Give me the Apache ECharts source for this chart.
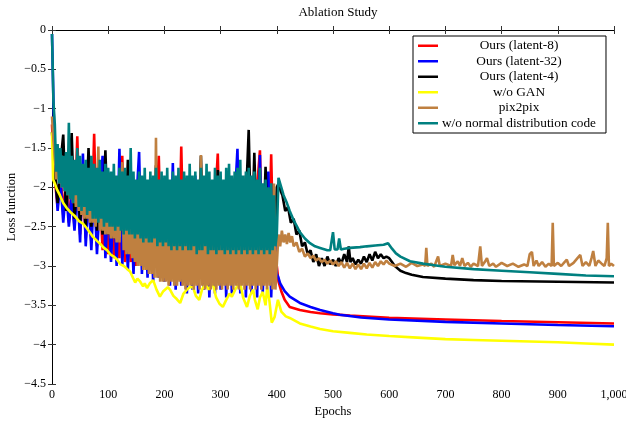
<!DOCTYPE html>
<html>
<head>
<meta charset="utf-8">
<script src="https://cdn.jsdelivr.net/npm/echarts/dist/echarts.min.js"></script>
<style>html,body{margin:0;padding:0;background:#fff}#c{width:626px;height:421px}</style>
</head>
<body>
<div id="c"></div>
<script>
// ---------- DATA ----------
const seriesNames = ['Ours (latent-8)','Ours (latent-32)','Ours (latent-4)','w/o GAN','pix2pix','w/o normal distribution code'];
const xTicks = [0,100,200,300,400,500,600,700,800,900,1000];
const yTicks = [0,-0.5,-1,-1.5,-2,-2.5,-3,-3.5,-4,-4.5];

// epochs of the noisy first phase (every 5 epochs, and every 2.5 epochs for the dense bands)
const epochsNoisy = [0,5,10,15,20,25,30,35,40,45,50,55,60,65,70,75,80,85,90,95,
  100,105,110,115,120,125,130,135,140,145,150,155,160,165,170,175,180,185,190,195,
  200,205,210,215,220,225,230,235,240,245,250,255,260,265,270,275,280,285,290,295,
  300,305,310,315,320,325,330,335,340,345,350,355,360,365,370,375,380,385,390,395,400];
const epochsDense = Array.from({length:161}, (_, i) => i * 2.5);

const latent8Noisy = [-1.2,-1.9,-2.25,-1.8,-2.35,-1.9,-2.45,-2.0,-2.5,-1.35,
  -2.6,-2.0,-2.65,-2.1,-2.7,-1.32,-2.75,-2.05,-2.8,-2.15,
  -2.85,-1.9,-2.9,-2.1,-2.9,-1.6,-2.95,-2.2,-2.95,-1.95,
  -3.0,-2.2,-3.0,-2.1,-3.05,-2.0,-3.0,-2.25,-1.6,-3.05,
  -2.2,-3.1,-2.0,-3.05,-2.3,-3.1,-1.48,-3.05,-2.2,-3.1,
  -2.1,-3.1,-1.95,-3.1,-2.3,-3.15,-2.05,-3.1,-2.2,-1.57,
  -3.15,-2.1,-3.1,-2.3,-3.15,-2.0,-3.1,-2.2,-3.15,-1.85,
  -3.1,-2.2,-3.15,-2.0,-1.53,-3.15,-2.2,-3.1,-1.58,-3.2,-3.0];
const latent8TailEpochs = [403,408,414,423,441,460,477,500,530,600,700,800,900,1000];
const latent8Tail = [-3.2,-3.32,-3.43,-3.52,-3.56,-3.585,-3.6,-3.615,-3.63,-3.66,-3.68,-3.7,-3.715,-3.73];

const latent32Noisy = [-0.05,-1.7,-2.3,-1.9,-2.45,-2.0,-2.5,-2.1,-2.55,-2.0,
  -2.7,-1.57,-2.75,-2.1,-2.8,-2.0,-2.85,-2.2,-1.6,-2.9,
  -2.15,-2.95,-2.1,-3.0,-1.51,-3.0,-2.2,-3.05,-2.1,-3.1,
  -2.2,-1.55,-3.1,-2.0,-3.15,-2.2,-3.2,-2.1,-3.15,-2.3,
  -3.2,-2.0,-3.25,-1.69,-3.3,-2.2,-3.25,-2.1,-3.35,-2.3,
  -3.3,-1.85,-3.35,-2.2,-3.3,-2.1,-3.4,-2.2,-3.35,-2.0,
  -3.3,-2.25,-3.4,-1.95,-3.35,-2.2,-1.51,-3.35,-2.1,-3.4,
  -2.2,-3.35,-2.0,-3.4,-1.59,-3.35,-2.2,-1.8,-3.4,-2.3,-3.1];
const latent32TailEpochs = [403,406,414,423,441,460,477,500,512,550,600,700,800,900,1000];
const latent32Tail = [-3.15,-3.22,-3.32,-3.39,-3.47,-3.52,-3.56,-3.6,-3.62,-3.655,-3.68,-3.71,-3.73,-3.75,-3.765];

const latent4Noisy = [-1.3,-1.8,-2.2,-1.7,-1.33,-2.3,-1.9,-1.31,-2.4,-1.9,
  -2.45,-2.0,-2.5,-1.5,-2.5,-2.0,-2.55,-2.1,-2.6,-1.53,
  -2.6,-2.1,-2.65,-2.0,-2.65,-2.2,-2.7,-1.65,-2.7,-2.1,
  -2.7,-2.2,-2.75,-2.0,-2.7,-2.3,-2.75,-1.72,-2.75,-2.2,
  -2.8,-2.1,-2.75,-2.3,-2.8,-2.0,-2.8,-2.2,-2.8,-2.1,
  -2.85,-2.3,-2.8,-1.6,-2.85,-2.2,-2.8,-2.1,-2.85,-1.78,
  -2.85,-2.2,-2.8,-2.1,-2.85,-2.3,-2.8,-2.0,-2.85,-2.2,
  -1.27,-2.85,-1.56,-2.8,-2.1,-2.85,-1.74,-2.8,-2.2,-2.85,-2.0];
const latent4TailEpochs = [403,407,410,415,420,425,430,435,440,445,450,455,460,465,470,475,480,485,490,495,
  500,505,510,515,520,525,528,531,535,540,545,550,555,560,565,570,575,580,585,590,
  595,600,605,610,620,630,640,660,700,750,800,900,1000];
const latent4Tail = [-1.95,-2.05,-2.1,-2.3,-2.25,-2.45,-2.4,-2.6,-2.55,-2.75,-2.7,-2.85,-2.8,-2.95,-2.85,-3.0,-2.9,-3.0,-2.88,-2.98,
  -2.92,-3.0,-2.9,-2.97,-2.85,-2.95,-2.75,-2.95,-2.9,-2.98,-2.92,-2.97,-2.88,-2.95,-2.85,-2.93,-2.82,-2.9,-2.85,-2.9,
  -2.88,-2.9,-2.95,-3.0,-3.06,-3.09,-3.11,-3.14,-3.16,-3.18,-3.19,-3.2,-3.21];

const noGanEpochs = [0,2,5,9,14,20,26,32,40,48,55,62,68,73,80,86,91,98,105,110,
  116,122,128,134,139,144,148,152,157,162,165,169,174,180,186,192,198,206,210,216,
  222,228,234,240,245,251,256,262,267,273,279,286,292,298,304,310,316,320,326,330,
  335,340,347,352,358,361,366,370,375,380,383,387,391,396,402,408,416,423,441,460,
  477,500,530,560,600,650,700,750,800,850,900,950,1000];
const noGanValues = [-1.3,-1.9,-1.95,-2.03,-2.1,-2.2,-2.26,-2.31,-2.36,-2.43,-2.46,-2.52,-2.58,-2.63,-2.68,-2.72,-2.76,-2.8,-2.86,-2.88,
  -2.92,-2.98,-3.0,-3.04,-3.07,-3.15,-3.21,-3.16,-3.2,-3.26,-3.22,-3.28,-3.22,-3.18,-3.3,-3.39,-3.32,-3.27,-3.3,-3.38,
  -3.42,-3.47,-3.35,-3.3,-3.27,-3.27,-3.38,-3.43,-3.3,-3.22,-3.3,-3.22,-3.4,-3.48,-3.52,-3.43,-3.35,-3.39,-3.3,-3.25,
  -3.22,-3.4,-3.52,-3.38,-3.3,-3.43,-3.55,-3.4,-3.33,-3.5,-3.26,-3.45,-3.72,-3.65,-3.43,-3.58,-3.64,-3.66,-3.73,-3.77,
  -3.8,-3.83,-3.85,-3.87,-3.89,-3.91,-3.93,-3.94,-3.95,-3.96,-3.97,-3.985,-4.0];

// pix2pix, every 2.5 epochs from 0 to 400
const pix2pixNoisy = [-1.1,
  -1.4,-1.6,-1.9,-1.55,-1.95,-1.65,-2.0,-1.7,-2.05,-1.75,
  -2.1,-1.8,-2.15,-1.85,-2.2,-1.9,-2.25,-1.9,-2.3,-1.95,
  -2.35,-2.0,-2.4,-2.0,-2.4,-2.05,-2.45,-2.1,-2.45,-2.1,
  -2.5,-2.1,-1.48,-2.55,-2.15,-2.55,-2.2,-2.6,-2.2,-2.6,
  -2.25,-2.65,-2.2,-2.65,-2.3,-2.7,-2.25,-2.7,-2.3,-1.68,
  -2.8,-2.3,-2.85,-2.35,-2.85,-2.3,-2.9,-2.4,-2.95,-2.35,
  -3.0,-2.4,-3.0,-2.35,-3.05,-2.4,-3.05,-2.45,-3.1,-2.4,
  -3.1,-2.45,-3.15,-1.37,-3.15,-2.4,-3.2,-2.45,-3.2,-2.35,
  -3.2,-2.4,-3.25,-2.45,-3.2,-2.35,-3.25,-2.4,-3.25,-2.45,
  -3.2,-2.4,-3.25,-2.35,-3.3,-2.4,-3.25,-2.45,-3.25,-2.4,
  -3.3,-2.45,-3.25,-2.4,-3.3,-1.59,-3.25,-2.35,-3.3,-2.45,
  -3.25,-2.4,-3.3,-2.35,-3.25,-2.45,-3.3,-2.4,-3.25,-2.35,
  -3.3,-2.45,-3.25,-2.4,-3.3,-2.35,-3.25,-2.45,-3.3,-2.4,
  -3.25,-2.35,-3.3,-2.45,-3.25,-2.4,-3.3,-2.4,-3.25,-2.35,
  -3.3,-2.45,-3.25,-2.4,-3.3,-2.35,-3.25,-2.45,-3.3,-2.4,
  -3.25,-2.35,-3.3,-2.3,-3.25,-2.1,-3.3,-1.95,-3.3,-3.3];
const pix2pixTailEpochs = [403,406,409,412,415,418,421,424,427,430,435,440,445,450,455,460,465,470,475,480,
  485,490,495,500,505,510,515,520,525,530,535,540,545,550,555,560,565,570,575,580,
  585,590,595,600,610,620,630,640,650,660,664,666,668,675,680,687,690,700,710,713,
  716,722,726,730,734,740,745,750,758,762,765,770,774,778,785,790,800,810,820,830,
  840,846,850,854,857,862,866,872,878,884,889,891,893,900,906,912,916,920,928,935,
  940,944,950,956,960,963,967,972,978,983,987,989,991,995,1000];
const pix2pixTail = [-2.6,-2.75,-2.55,-2.7,-2.6,-2.72,-2.58,-2.7,-2.62,-2.75,-2.7,-2.82,-2.78,-2.88,-2.84,-2.9,-2.87,-2.93,-2.9,-2.95,
  -2.92,-2.97,-2.93,-2.98,-2.94,-3.0,-2.95,-3.02,-2.96,-3.03,-2.97,-3.04,-2.98,-3.04,-2.97,-3.03,-2.96,-3.02,-2.95,-3.0,
  -2.94,-2.98,-2.93,-2.97,-3.0,-2.97,-3.01,-2.96,-3.0,-2.98,-3.0,-2.77,-3.0,-2.97,-3.01,-2.88,-3.0,-2.97,-3.0,-2.86,
  -2.99,-2.94,-3.0,-2.9,-3.0,-2.96,-3.01,-2.97,-3.0,-2.75,-3.0,-2.95,-2.9,-3.0,-2.97,-3.01,-2.96,-3.0,-2.97,-3.01,
  -2.98,-3.0,-2.85,-2.82,-3.0,-2.93,-3.0,-2.95,-3.01,-2.97,-3.0,-2.45,-3.0,-2.96,-3.0,-2.95,-2.92,-3.0,-2.96,-2.9,
  -2.86,-3.0,-2.95,-3.0,-2.9,-2.81,-3.0,-2.93,-2.97,-3.0,-2.9,-2.45,-3.0,-2.97,-3.0];

// w/o normal distribution code, every 2.5 epochs from 0 to 400
const noNormalNoisy = [-0.05,
  -0.9,-1.2,-1.8,-1.45,-1.95,-1.5,-2.0,-1.6,-2.05,-1.55,
  -2.1,-1.18,-2.15,-1.6,-2.2,-1.65,-2.1,-1.5,-2.25,-1.6,
  -2.3,-1.7,-2.25,-1.65,-2.35,-1.75,-2.3,-1.6,-2.4,-1.7,
  -2.4,-1.75,-2.45,-1.65,-2.4,-1.8,-2.5,-1.7,-2.45,-1.75,
  -2.5,-1.8,-2.5,-1.7,-2.55,-1.85,-2.5,-1.75,-2.55,-1.8,
  -2.6,-1.75,-2.55,-1.85,-2.6,-1.5,-2.6,-1.8,-2.65,-1.9,
  -2.6,-1.8,-2.65,-1.85,-2.7,-1.75,-2.65,-1.9,-2.7,-1.8,
  -2.7,-1.85,-2.65,-1.75,-2.75,-1.9,-2.7,-1.8,-2.75,-1.85,
  -2.7,-1.75,-2.75,-1.9,-2.8,-1.8,-2.75,-1.85,-2.8,-1.75,
  -2.75,-1.9,-2.8,-1.8,-2.75,-1.85,-2.8,-1.7,-2.8,-1.85,
  -2.75,-1.8,-2.85,-1.9,-2.8,-1.75,-2.8,-1.85,-2.75,-1.7,
  -2.85,-1.8,-2.8,-1.9,-2.8,-1.75,-2.85,-1.85,-2.8,-1.8,
  -2.8,-1.9,-2.85,-1.75,-2.8,-1.7,-2.85,-1.85,-2.8,-1.8,
  -2.85,-1.75,-2.8,-1.65,-2.85,-1.85,-2.8,-1.8,-2.85,-1.75,
  -2.8,-1.85,-2.85,-1.8,-2.8,-1.9,-2.85,-1.75,-2.8,-1.95,
  -2.85,-1.9,-2.8,-2.0,-2.85,-1.95,-2.8,-2.1,-2.75,-2.6];
const noNormalTailEpochs = [403,408,412,418,423,430,436,441,450,459,468,477,490,495,500,503,508,511,514,520,
  530,548,560,575,590,598,605,612,620,637,660,680,700,750,800,850,900,950,1000];
const noNormalTail = [-1.88,-2.0,-2.1,-2.2,-2.3,-2.42,-2.5,-2.57,-2.65,-2.71,-2.75,-2.77,-2.8,-2.8,-2.57,-2.79,-2.79,-2.65,-2.79,-2.78,
  -2.77,-2.76,-2.75,-2.74,-2.73,-2.71,-2.78,-2.84,-2.88,-2.94,-2.97,-2.99,-3.01,-3.04,-3.06,-3.08,-3.1,-3.12,-3.13];

const colors = ['#ff0000','#0000ff','#000000','#ffff00','#bf8040','#008080'];

// ---------- BUILD ----------
function pairs(ex, vx){ return ex.map((e,i)=>[e, vx[i]]); }
const seriesData = [
  pairs(epochsNoisy, latent8Noisy).concat(pairs(latent8TailEpochs, latent8Tail)),
  pairs(epochsNoisy, latent32Noisy).concat(pairs(latent32TailEpochs, latent32Tail)),
  pairs(epochsNoisy, latent4Noisy).concat(pairs(latent4TailEpochs, latent4Tail)),
  pairs(noGanEpochs, noGanValues),
  pairs(epochsDense, pix2pixNoisy).concat(pairs(pix2pixTailEpochs, pix2pixTail)),
  pairs(epochsDense, noNormalNoisy).concat(pairs(noNormalTailEpochs, noNormalTail))
];

const FONT = 'Liberation Serif';
const fmtY = v => v === 0 ? '0' : '\u2212' + Math.abs(v);
const fmtX = v => v.toLocaleString('en-US');

const tickStyle = {show:true, inside:true, length:4, lineStyle:{color:'#333', width:1}};
const lineAxis = {show:true, lineStyle:{color:'#000', width:1}};

const chart = echarts.init(document.getElementById('c'), null, {renderer:'canvas'});
chart.setOption({
  animation:false,
  backgroundColor:'#fff',
  title:{text:'Ablation Study', left:333, top:1, textAlign:'center',
    textStyle:{fontFamily:FONT, fontSize:13, fontWeight:'normal', color:'#000'}},
  grid:{left:52, right:12, top:30, bottom:37, containLabel:false, outerBoundsMode:'none'},
  legend:{
    orient:'vertical', left:413, top:36, icon:'rect', itemWidth:20, itemHeight:2.5, itemGap:0,
    padding:[2,10,2,5], borderColor:'#000', borderWidth:1, backgroundColor:'#fff',
    data:seriesNames,
    formatter: n => '{t|' + n + '}',
    textStyle:{fontFamily:FONT, fontSize:13.3, color:'#000', lineHeight:15.5,
      rich:{t:{width:152, height:15.5, align:'center', fontFamily:FONT, fontSize:13.3, lineHeight:15.5, color:'#000'}}}
  },
  xAxis:[
    {type:'value', position:'bottom', min:0, max:1000, interval:100,
      axisLine:lineAxis, axisTick:tickStyle, splitLine:{show:false},
      axisLabel:{formatter:fmtX, color:'#000', fontFamily:FONT, fontSize:12, margin:5, showMaxLabel:true},
      name:'Epochs', nameLocation:'middle', nameGap:21, nameMoveOverlap:false,
      nameTextStyle:{fontFamily:FONT, fontSize:12.5, color:'#000'}},
    {type:'value', position:'top', min:0, max:1000, interval:100,
      axisLine:lineAxis, axisTick:tickStyle, splitLine:{show:false}, axisLabel:{show:false}}
  ],
  yAxis:[
    {type:'value', position:'left', min:-4.5, max:0, interval:0.5,
      axisLine:lineAxis, axisTick:tickStyle, splitLine:{show:false},
      axisLabel:{formatter:fmtY, color:'#000', fontFamily:FONT, fontSize:12, margin:6},
      name:'Loss function', nameLocation:'middle', nameGap:34, nameMoveOverlap:false,
      nameTextStyle:{fontFamily:FONT, fontSize:12.5, color:'#000'}},
    {type:'value', position:'right', min:-4.5, max:0, interval:0.5,
      axisLine:lineAxis, axisTick:tickStyle, splitLine:{show:false}, axisLabel:{show:false}}
  ],
  series: seriesNames.map((n,i)=>({
    name:n, type:'line', data:seriesData[i], xAxisIndex:0, yAxisIndex:0,
    symbol:'none', showSymbol:false, sampling:null, clip:true,
    color:colors[i], lineStyle:{color:colors[i], width:2.6, join:'bevel'}
  }))
});
</script>
</body>
</html>
